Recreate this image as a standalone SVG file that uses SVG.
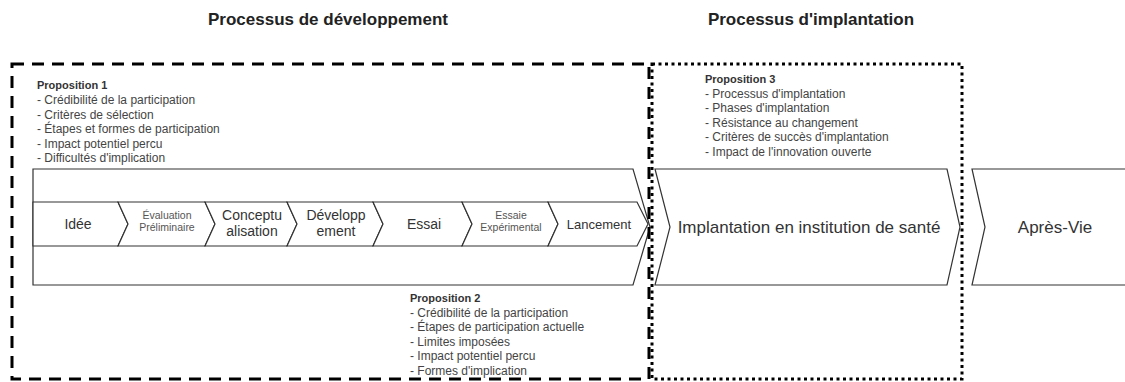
<svg xmlns="http://www.w3.org/2000/svg" width="1125" height="382" viewBox="0 0 1125 382">
  <style>
    .title { font-family: "Liberation Sans", Arial, sans-serif; font-size: 17px; font-weight: bold; fill: #222; text-anchor: middle; }
    .prop-head { font-family: "Liberation Sans", Arial, sans-serif; font-size: 11px; font-weight: bold; fill: #333; }
    .prop { font-family: "Liberation Sans", Arial, sans-serif; font-size: 12px; fill: #444; }
    .shape { fill: #fff; stroke: #333; stroke-width: 1.2; }
    .lbl { font-family: "Liberation Sans", Arial, sans-serif; font-size: 14px; fill: #333; text-anchor: middle; }
    .lbl-sm { font-family: "Liberation Sans", Arial, sans-serif; font-size: 10.5px; fill: #555; text-anchor: middle; }
    .lbl-lg { font-family: "Liberation Sans", Arial, sans-serif; font-size: 17px; fill: #333; text-anchor: middle; }
    .dev-frame { fill: none; stroke: #000; stroke-width: 3; stroke-dasharray: 12 8; }
    .impl-frame { fill: none; stroke: #000; stroke-width: 3; stroke-dasharray: 3 3.5; }
  </style>

  <rect width="1125" height="382" fill="#fff"/>

  <!-- section titles -->
  <text class="title" x="328" y="25">Processus de développement</text>
  <text class="title" x="811" y="25">Processus d'implantation</text>

  <!-- development band with its step chevrons -->
  <g id="development-band">
    <polygon class="shape" points="33,169 633,169 650,227 633,285 33,285"/>
  </g>

  <g id="step-idee">
    <polygon class="shape" points="33,202 118,202 128,224 118,246 33,246"/>
    <text class="lbl" x="78" y="229">Idée</text>
  </g>
  <g id="step-evaluation">
    <polygon class="shape" points="118,202 205,202 215,224 205,246 118,246 128,224"/>
    <text class="lbl-sm" x="167" y="219">Évaluation</text>
    <text class="lbl-sm" x="167" y="231">Préliminaire</text>
  </g>
  <g id="step-conception">
    <polygon class="shape" points="205,202 287,202 297,224 287,246 205,246 215,224"/>
    <text class="lbl" x="252" y="220">Conceptu</text>
    <text class="lbl" x="252" y="236">alisation</text>
  </g>
  <g id="step-developpement">
    <polygon class="shape" points="287,202 373,202 383,224 373,246 287,246 297,224"/>
    <text class="lbl" x="336" y="220">Développ</text>
    <text class="lbl" x="336" y="236">ement</text>
  </g>
  <g id="step-essai">
    <polygon class="shape" points="373,202 462,202 472,224 462,246 373,246 383,224"/>
    <text class="lbl" x="424" y="229">Essai</text>
  </g>
  <g id="step-essai-experimental">
    <polygon class="shape" points="462,202 548,202 558,224 548,246 462,246 472,224"/>
    <text class="lbl-sm" x="511" y="219">Essaie</text>
    <text class="lbl-sm" x="511" y="231">Expérimental</text>
  </g>
  <g id="step-lancement">
    <polygon class="shape" points="548,202 637,202 648,224 637,246 548,246 558,224"/>
    <text class="lbl" x="599" y="229" style="font-size:13px">Lancement</text>
  </g>

  <!-- implementation and after-life stages -->
  <g id="stage-implantation">
    <polygon class="shape" points="655,169 947,169 960,227 947,285 655,285 670,227"/>
    <text class="lbl-lg" x="809" y="233">Implantation en institution de santé</text>
  </g>
  <g id="stage-apres-vie">
    <polygon class="shape" points="972,169 1130,169 1130,285 972,285 985,227"/>
    <text class="lbl-lg" x="1055" y="233">Après-Vie</text>
  </g>

  <!-- process frames -->
  <g id="frames">
    <rect class="dev-frame" x="12" y="64" width="637" height="315"/>
    <rect class="impl-frame" x="652" y="64" width="310" height="315"/>
  </g>

  <!-- propositions -->
  <g id="proposition-1">
    <text class="prop-head" x="37" y="89">Proposition 1</text>
    <text class="prop" x="37" y="104">- Crédibilité de la participation</text>
    <text class="prop" x="37" y="118.5">- Critères de sélection</text>
    <text class="prop" x="37" y="133">- Étapes et formes de participation</text>
    <text class="prop" x="37" y="147.5">- Impact potentiel percu</text>
    <text class="prop" x="37" y="162">- Difficultés d'implication</text>
  </g>
  <g id="proposition-2">
    <text class="prop-head" x="410" y="302">Proposition 2</text>
    <text class="prop" x="410" y="316.5">- Crédibilité de la participation</text>
    <text class="prop" x="410" y="331">- Étapes de participation actuelle</text>
    <text class="prop" x="410" y="345.5">- Limites imposées</text>
    <text class="prop" x="410" y="360">- Impact potentiel percu</text>
    <text class="prop" x="410" y="374.5">- Formes d'implication</text>
  </g>
  <g id="proposition-3">
    <text class="prop-head" x="705" y="83">Proposition 3</text>
    <text class="prop" x="705" y="97.5">- Processus d'implantation</text>
    <text class="prop" x="705" y="112">- Phases d'implantation</text>
    <text class="prop" x="705" y="126.5">- Résistance au changement</text>
    <text class="prop" x="705" y="141">- Critères de succès d'implantation</text>
    <text class="prop" x="705" y="155.5">- Impact de l'innovation ouverte</text>
  </g>
</svg>
